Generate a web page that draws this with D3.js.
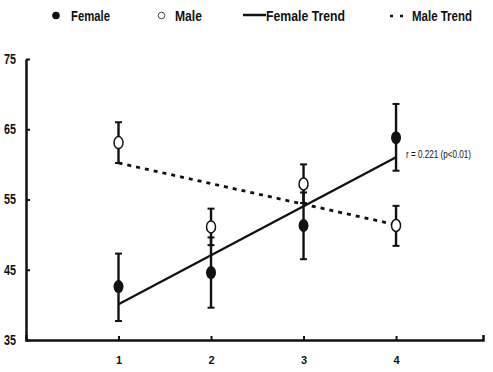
<!DOCTYPE html>
<html><head><meta charset="utf-8">
<script src="https://cdn.jsdelivr.net/npm/d3@7"></script>
<style>
body{margin:0;background:#fff;}
svg{display:block;}
text{font-family:"Liberation Sans",Arial,sans-serif;}
</style></head>
<body>
<svg id="c" width="493" height="372"></svg>
<script>
const groups = [1, 2, 3, 4];
const femaleMean = [42.6, 44.6, 51.3, 63.8];
const femaleLow  = [37.7, 39.6, 46.5, 59.1];
const femaleHigh = [47.3, 49.6, 56.0, 68.6];
const maleMean = [63.1, 51.1, 57.2, 51.3];
const maleLow  = [60.2, 48.5, 54.5, 48.4];
const maleHigh = [66.0, 53.7, 60.0, 54.1];
const femaleTrend = [40.1, 61.0]; // at group 1 and 4
const maleTrend = [60.2, 51.4];
const yTicks = [35, 45, 55, 65, 75];
const xTicks = [1, 2, 3, 4];
const annotation = "r = 0.221 (p<0.01)";
const legendItems = ["Female", "Male", "Female Trend", "Male Trend"];

const svg = d3.select("#c");
const x = d3.scaleLinear().domain([0, 4.94]).range([26, 483]);
const y = d3.scaleLinear().domain([35, 75]).range([340, 59]);

// axes
const yAx = svg.append("g").attr("transform", "translate(26,0)")
  .call(d3.axisLeft(y).tickValues(yTicks).tickSizeInner(-4).tickSizeOuter(0).tickPadding(10).tickFormat(d3.format("d")));
yAx.select(".domain").attr("stroke-width", 2.5).attr("stroke", "#111");
yAx.selectAll(".tick line").attr("stroke-width", 2).attr("stroke", "#111");
yAx.selectAll("text").attr("font-size", 14).attr("font-weight", "bold").attr("fill", "#111")
  .attr("textLength", 12).attr("lengthAdjust", "spacingAndGlyphs");

const xAx = svg.append("g").attr("transform", "translate(0,340)")
  .call(d3.axisBottom(x).tickValues(xTicks).tickSizeInner(-4).tickSizeOuter(-5).tickPadding(16).tickFormat(d3.format("d")));
xAx.select(".domain").attr("stroke-width", 2.5).attr("stroke", "#111");
xAx.selectAll(".tick line").attr("stroke-width", 2).attr("stroke", "#111");
xAx.selectAll("text").attr("font-size", 11).attr("font-weight", "bold").attr("fill", "#111");

// trend lines
svg.append("line").attr("x1", x(1)).attr("x2", x(4))
  .attr("y1", y(femaleTrend[0])).attr("y2", y(femaleTrend[1]))
  .attr("stroke", "#111").attr("stroke-width", 2.3);
svg.append("line").attr("x1", x(1)).attr("x2", x(4))
  .attr("y1", y(maleTrend[0])).attr("y2", y(maleTrend[1]))
  .attr("stroke", "#111").attr("stroke-width", 2.8).attr("stroke-dasharray", "4,5");

function errBars(low, high) {
  const g = svg.append("g").attr("stroke", "#111").attr("stroke-width", 2.4);
  groups.forEach((gv, i) => {
    g.append("line").attr("x1", x(gv)).attr("x2", x(gv)).attr("y1", y(low[i])).attr("y2", y(high[i]));
    [low[i], high[i]].forEach(v => g.append("line").attr("x1", x(gv) - 3.5).attr("x2", x(gv) + 3.5).attr("y1", y(v)).attr("y2", y(v)).attr("stroke-width", 2));
  });
}
errBars(maleLow, maleHigh);
errBars(femaleLow, femaleHigh);

svg.append("g").selectAll("ellipse").data(groups).join("ellipse")
  .attr("cx", d => x(d)).attr("cy", (d, i) => y(femaleMean[i])).attr("rx", 5).attr("ry", 6.5)
  .attr("fill", "#111");
svg.append("g").selectAll("ellipse").data(groups).join("ellipse")
  .attr("cx", d => x(d)).attr("cy", (d, i) => y(maleMean[i])).attr("rx", 4.5).attr("ry", 6)
  .attr("fill", "#fff").attr("stroke", "#111").attr("stroke-width", 1.5);

svg.append("text").attr("x", 406).attr("y", 158)
  .attr("font-size", 11).attr("fill", "#111").text(annotation)
  .attr("textLength", 65).attr("lengthAdjust", "spacingAndGlyphs");

// legend
const lg = svg.append("g");
lg.append("circle").attr("cx", 56).attr("cy", 15.5).attr("r", 3.8).attr("fill", "#111");
lg.append("circle").attr("cx", 161.5).attr("cy", 15.5).attr("r", 3.3).attr("fill", "#fff").attr("stroke", "#444").attr("stroke-width", 1);
lg.append("line").attr("x1", 243).attr("x2", 266).attr("y1", 15).attr("y2", 15).attr("stroke", "#111").attr("stroke-width", 2.5);
lg.append("line").attr("x1", 390).attr("x2", 403).attr("y1", 16).attr("y2", 16).attr("stroke", "#111").attr("stroke-width", 2.5).attr("stroke-dasharray", "3,7");
const lx = [71, 175, 266, 412];
const lw = [39, 27, 79, 60];
legendItems.forEach((t, i) => lg.append("text").attr("x", lx[i]).attr("y", 20.5)
  .attr("font-size", 14).attr("font-weight", "bold").attr("fill", "#111").text(t)
  .attr("textLength", lw[i]).attr("lengthAdjust", "spacingAndGlyphs"));
</script>
</body></html>
